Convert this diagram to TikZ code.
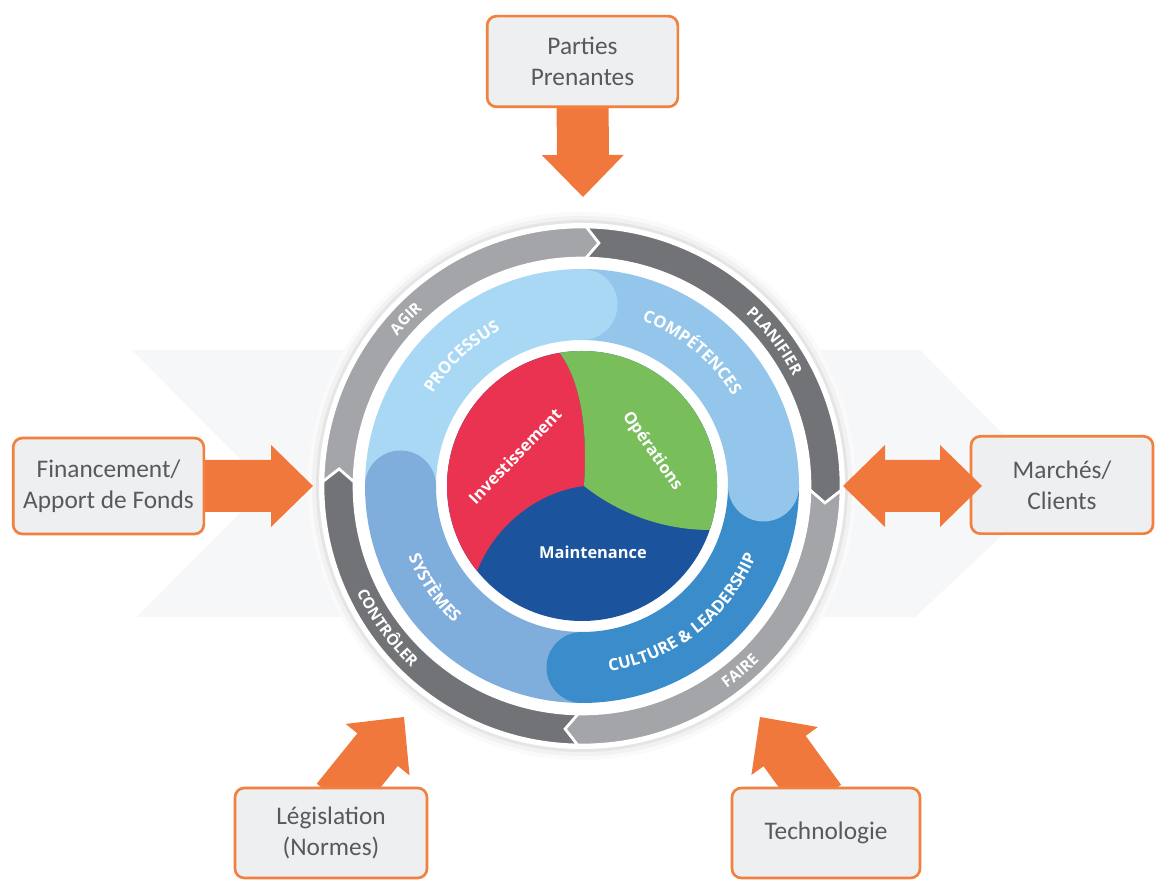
\documentclass[tikz,border=0pt]{standalone}
\usepackage{fontspec}
\setmainfont{Carlito}
\newfontfamily\ringfont{Open Sans}
\usetikzlibrary{calc,decorations.text}

\definecolor{orangefill}{HTML}{F1783C}
\definecolor{orangeline}{HTML}{F2803F}
\definecolor{boxfill}{HTML}{EDEFF1}
\definecolor{boxtext}{HTML}{58595B}
\definecolor{bandA}{HTML}{A9D8F4}
\definecolor{bandB}{HTML}{93C6EA}
\definecolor{bandC}{HTML}{3A8DCA}
\definecolor{bandD}{HTML}{7FAEDD}
\definecolor{ringLight}{HTML}{A3A5A8}
\definecolor{ringDark}{HTML}{727376}
\definecolor{pieRed}{HTML}{EA3350}
\definecolor{pieGreen}{HTML}{78BF5C}
\definecolor{pieBlue}{HTML}{1B539D}
\definecolor{haze}{HTML}{F6F7F9}

\pgfdeclarelayer{backdrop}
\pgfdeclarelayer{arrows}
\pgfsetlayers{backdrop,arrows,main}

\newcommand{\bandfont}{\ringfont\bfseries\fontsize{12.4pt}{14pt}\selectfont}
\newcommand{\cyclefont}{\ringfont\bfseries\fontsize{11.6pt}{13pt}\selectfont}

% text set along a circular arc (start angle, end angle, radius, format, text)
\newcommand{\arclabel}[5]{%
  \path[decorate, decoration={text along path, text align=center, text color=white,
        text={|#4|#5}}]
    (#1:#3) arc[start angle=#1, end angle=#2, radius=#3];}

% grey cycle segment with a chevron head at its clockwise end
\newcommand{\ringseg}[3]{%
  \filldraw[fill=#3, draw=white, line width=2pt, line join=miter]
    (#1:259) arc[start angle=#1, end angle=#2, radius=259]
    -- ({#2-3}:243.5) -- (#2:228)
    arc[start angle=#2, end angle=#1, radius=228]
    -- ({#1-3}:243.5) -- cycle;}

% blue band sector and its rounded head
\newcommand{\band}[3]{%
  \fill[#3] (#1:217) arc[start angle=#1, end angle=#2, radius=217]
    -- (#2:146) arc[start angle=#2, end angle=#1, radius=146] -- cycle;}
\newcommand{\bandcap}[2]{\fill[#2] (#1:181.5) circle[radius=35.5];}

% thick orange arrow from a base point to a tip
\newcommand{\blockarrow}[2]{%
  \coordinate (ah) at ($(#2)!31.5pt!(#1)$);
  \fill[orangefill] ($(#1)!19.5pt!90:(#2)$) -- ($(ah)!19.5pt!90:(#2)$)
    -- ($(ah)!30.75pt!90:(#2)$) -- (#2) -- ($(ah)!30.75pt!-90:(#2)$)
    -- ($(ah)!19.5pt!-90:(#2)$) -- ($(#1)!19.5pt!-90:(#2)$) -- cycle;}

% thick orange arrow with heads at both ends
\newcommand{\doublearrow}[2]{%
  \coordinate (ha) at ($(#1)!31.5pt!(#2)$);
  \coordinate (hb) at ($(#2)!31.5pt!(#1)$);
  \fill[orangefill] (#1) -- ($(ha)!30.75pt!90:(#2)$) -- ($(ha)!19.5pt!90:(#2)$)
    -- ($(hb)!19.5pt!90:(#2)$) -- ($(hb)!30.75pt!90:(#2)$) -- (#2)
    -- ($(hb)!30.75pt!-90:(#2)$) -- ($(hb)!19.5pt!-90:(#2)$)
    -- ($(ha)!19.5pt!-90:(#2)$) -- ($(ha)!30.75pt!-90:(#2)$) -- cycle;}

\begin{document}
\begin{tikzpicture}[x=0.75pt, y=0.75pt,
  box/.style={draw=orangeline, line width=2pt, fill=boxfill, rounded corners=7pt,
    text=boxtext, align=center, inner sep=0pt, font=\fontsize{19pt}{23pt}\selectfont},
  pietext/.style={text=white, font=\ringfont\bfseries\fontsize{12.3pt}{14pt}\selectfont, inner sep=0pt}]

\useasboundingbox (0,0) rectangle (1155,880);

\begin{pgfonlayer}{backdrop}
  \fill[white] (0,0) rectangle (1155,880);
  % faint chevron band behind the wheel
  \fill[haze] (132,530) -- (920,530) -- (1055,394) -- (915,263) -- (137,263) -- (267,394) -- cycle;

  \begin{scope}[shift={(582,394)}]
    % soft halo and white rim
    \fill[black!2] (0,0) circle[radius=274];
    \fill[black!5] (0,0) circle[radius=270];
    \fill[black!10] (0,0) circle[radius=266];
    \fill[white] (0,0) circle[radius=263];

    % cycle ring
    \ringseg{179}{89}{ringLight}
    \ringseg{89}{-1}{ringDark}
    \ringseg{-1}{-91}{ringLight}
    \ringseg{269}{179}{ringDark}

    % blue bands
    \band{180}{90}{bandA}
    \band{90}{0}{bandB}
    \band{0}{-90}{bandC}
    \band{270}{180}{bandD}
    \bandcap{90}{bandA}
    \bandcap{0}{bandB}
    \bandcap{-90}{bandC}
    \bandcap{180}{bandD}

    % centre pie
    \fill[pieBlue] (0,0) circle[radius=135];
    \fill[pieRed] (2,0) .. controls (6,60) and (-2,105) .. (99.5:135)
      arc[start angle=99.5, end angle=219, radius=135]
      .. controls (-85,-35) and (-40,-5) .. (2,0) -- cycle;
    \fill[pieGreen] (2,0) .. controls (40,-30) and (85,-44) .. (-19:135)
      arc[start angle=-19, end angle=99.5, radius=135]
      .. controls (-2,105) and (6,60) .. (2,0) -- cycle;

    \node[pietext, rotate=46] (inv) at (-67,30) {Investissement};
    \node[pietext, rotate=-55] (ops) at (70,35) {Opérations};
    \node[pietext] (maint) at (11,-66) {Maintenance};

    % band labels
    \arclabel{178}{88}{175.5}{\bandfont}{PROCESSUS}
    \arclabel{95.5}{5.5}{175.5}{\bandfont}{COMPÉTENCES}
    \arclabel{-96.7}{-6.7}{187.5}{\bandfont}{CULTURE {\&} LEADERSHIP}
    \arclabel{169.6}{259.6}{187.5}{\bandfont}{SYSTÈMES}

    % cycle labels
    \arclabel{176.5}{96.5}{238}{\cyclefont}{AGIR}
    \arclabel{77}{-3}{238}{\cyclefont}{PLANIFIER}
    \arclabel{176}{256}{249}{\cyclefont}{CONTRÔLER}
    \arclabel{-89.5}{-9.5}{249}{\cyclefont}{FAIRE}
  \end{scope}
\end{pgfonlayer}

% input boxes
\node[box, minimum width=143pt, minimum height=68pt] (parties) at (582.5,818.5) {Parties\\Prenantes};
\node[box, minimum width=143pt, minimum height=72pt] (fin) at (108.5,394) {Financement/\\Apport de Fonds};
\node[box, minimum width=136.5pt, minimum height=73pt] (marches) at (1062,395) {Marchés/\\Clients};
\node[box, minimum width=144pt, minimum height=67.5pt] (legis) at (331,47) {Législation\\(Normes)};
\node[box, minimum width=141pt, minimum height=67.5pt] (techno) at (826,47) {Technologie};

% arrow end points on the wheel
\coordinate (tipTop) at (583,683);
\coordinate (tipLeft) at (313,394);
\coordinate (tipMkIn) at (843,394);
\coordinate (tipMkOut) at (982,394);
\coordinate (legisBase) at (337,80);
\coordinate (tipLegis) at (404,163);
\coordinate (technoBase) at (820,80);
\coordinate (tipTechno) at (760,163);

\begin{pgfonlayer}{arrows}
  \blockarrow{parties.center}{tipTop}
  \blockarrow{fin.center}{tipLeft}
  \blockarrow{legisBase}{tipLegis}
  \blockarrow{technoBase}{tipTechno}
\end{pgfonlayer}

\doublearrow{tipMkIn}{tipMkOut}
\end{tikzpicture}
\end{document}
